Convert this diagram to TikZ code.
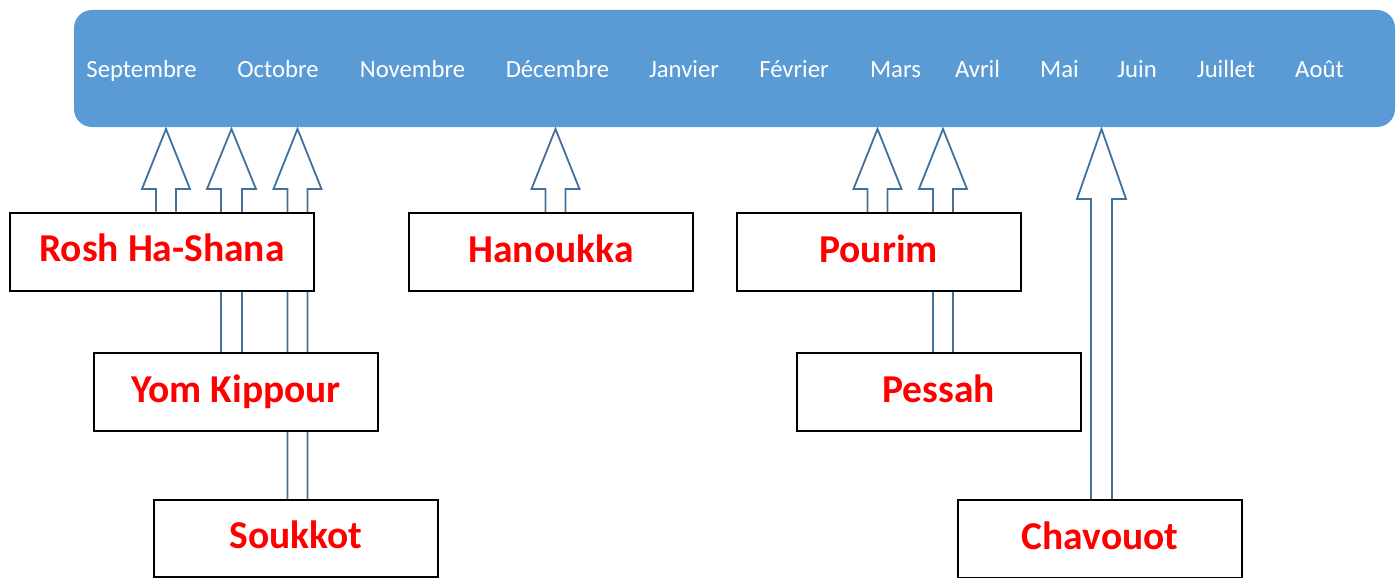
\documentclass[tikz,border=0pt]{standalone}
\usepackage{fontspec}
\setmainfont{Carlito}
\usetikzlibrary{calc,backgrounds}

\definecolor{barblue}{HTML}{5B9BD5}
\definecolor{arrowblue}{HTML}{41719C}

\tikzset{
  bar/.style={fill=barblue, rounded corners=18pt, inner sep=0pt,
              minimum width=1321pt, minimum height=117pt},
  month/.style={text=white, anchor=base, inner sep=0pt,
                font=\fontsize{24.7}{30}\selectfont},
  feast/.style={draw=black, line width=2pt, fill=white,
                minimum width=284pt, minimum height=78pt,
                text height=24pt, text depth=4pt,
                text=red, font=\bfseries\fontsize{39.5}{46}\selectfont},
  festline/.style={draw=arrowblue, line width=1.8pt, line join=miter}
}

% hollow block arrow from a box up to a tip on the bar
\newcommand{\festarrow}[4][60pt]{%
  \draw[festline] let \p1=(#3), \p2=(#2.north -| #3) in
    (\x1-#4,\y2) -- (\x1-#4,\y1-#1) -- (\x1-24pt-#4+10pt,\y1-#1) -- (\p1)
    -- (\x1+24pt+#4-10pt,\y1-#1) -- (\x1+#4,\y1-#1) -- (\x1+#4,\y2);
}

\begin{document}
\begin{tikzpicture}[x=1pt,y=-1pt]
  \useasboundingbox (0,0) rectangle (1397,578);

  % months
  \node[bar] (bar) at (734.5,68.5) {};
  \node[month] (sep) at (141.5,77.5) {Septembre};
  \node[month] (oct) at (278,77.5) {Octobre};
  \node[month] (nov) at (412.5,77.5) {Novembre};
  \node[month] (dec) at (557.5,77.5) {Décembre};
  \node[month] (jan) at (684,77.5) {Janvier};
  \node[month] (fev) at (794,77.5) {Février};
  \node[month] (mar) at (895.5,77.5) {Mars};
  \node[month] (avr) at (977.5,77.5) {Avril};
  \node[month] (mai) at (1059.5,77.5) {Mai};
  \node[month] (jun) at (1137,77.5) {Juin};
  \node[month] (jul) at (1226,77.5) {Juillet};
  \node[month] (aou) at (1319.5,77.5) {Août};

  % feasts
  \node[feast, minimum width=304pt] (rosh) at (162,251.5) {Rosh Ha-Shana};
  \node[feast] (kip) at (236,392) {Yom Kippour};
  \node[feast, minimum height=77pt] (souk) at (296,538.5) {Soukkot};
  \node[feast] (hano) at (551,252) {Hanoukka};
  \node[feast] (pour) at (878.5,252) {Pourim};
  \node[feast] (pes) at (938.5,392) {Pessah};
  \node[feast] (chav) at (1100,539) {Chavouot};

  % arrow tips under the bar
  \coordinate (t1) at (166,129);
  \coordinate (t2) at (231.5,129);
  \coordinate (t3) at (297.5,129);
  \coordinate (t4) at (555.5,129);
  \coordinate (t5) at (877.5,129);
  \coordinate (t6) at (943,129);
  \coordinate (t7) at (1101.5,129);

  \begin{pgfonlayer}{background}
    \festarrow{rosh}{t1}{10pt}
    \festarrow{kip}{t2}{10.5pt}
    \festarrow{souk}{t3}{10pt}
    \festarrow{hano}{t4}{10pt}
    \festarrow{pour}{t5}{10pt}
    \festarrow{pes}{t6}{10pt}
    \festarrow[70pt]{chav}{t7}{10.5pt}
  \end{pgfonlayer}
\end{tikzpicture}
\end{document}
